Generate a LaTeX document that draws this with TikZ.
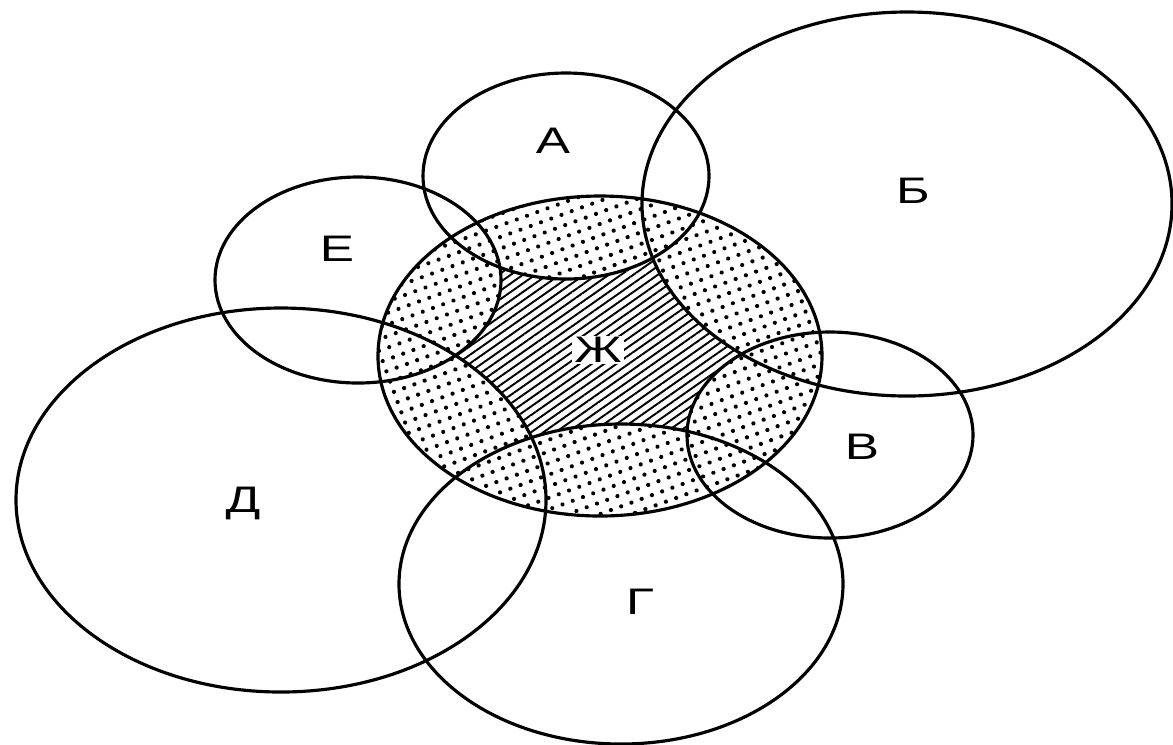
\documentclass[tikz,border=0pt]{standalone}
\usepackage{fontspec}
\setsansfont{Liberation Sans}
\usepackage{tikz}
\usetikzlibrary{patterns.meta}
\tikzset{
  setc/.style={line width=0.9pt},
  lbl/.style={font=\sffamily\fontsize{10.5}{10.5}\selectfont, inner sep=1pt, xscale=1.39},
  small/.style={x radius=143, y radius=103},
  mid/.style={x radius=222, y radius=160},
  big/.style={x radius=265, y radius=192},
  dotsf/.style={preaction={fill=white}, pattern={Dots[distance=3.1pt, radius=0.6pt, angle=20]}},
  hatchf/.style={preaction={fill=white}, pattern={Lines[angle=35, distance=2pt, line width=0.55pt]}},
  every picture/.style={line cap=round, line join=round}
}
\begin{document}
\begin{tikzpicture}[x=0.01cm, y=-0.01cm]
  \useasboundingbox (0,0) rectangle (1173,744);

  % centres of the sets
  \coordinate (cA) at (566,176);
  \coordinate (cB) at (907,204);
  \coordinate (cV) at (830,435);
  \coordinate (cG) at (621,584);
  \coordinate (cD) at (281,500);
  \coordinate (cE) at (358,280);
  \coordinate (cZ) at (600,356);

  % inside of Ж: hatched core, dotted overlaps
  \begin{scope}
    \clip (cZ) ellipse [mid];
    \fill[hatchf] (cZ) ellipse [mid];
    \foreach \c/\r in {cA/small, cB/big, cV/small, cG/mid, cD/big, cE/small}
      \fill[dotsf] (\c) ellipse [\r];
  \end{scope}

  % outlines
  \draw[setc] (cA) ellipse [small];
  \draw[setc] (cB) ellipse [big];
  \draw[setc] (cV) ellipse [small];
  \draw[setc] (cG) ellipse [mid];
  \draw[setc] (cD) ellipse [big];
  \draw[setc] (cE) ellipse [small];
  \draw[setc] (cZ) ellipse [mid];

  \node[lbl] (lA) at (553,141) {А};
  \node[lbl] (lB) at (913,191) {Б};
  \node[lbl] (lV) at (862,447) {В};
  \node[lbl] (lG) at (640,602) {Г};
  \node[lbl] (lD) at (243,503) {Д};
  \node[lbl] (lE) at (337,249) {Е};
  \node[lbl, fill=white, inner sep=0.5pt] (lZ) at (598,350) {Ж};
\end{tikzpicture}
\end{document}
